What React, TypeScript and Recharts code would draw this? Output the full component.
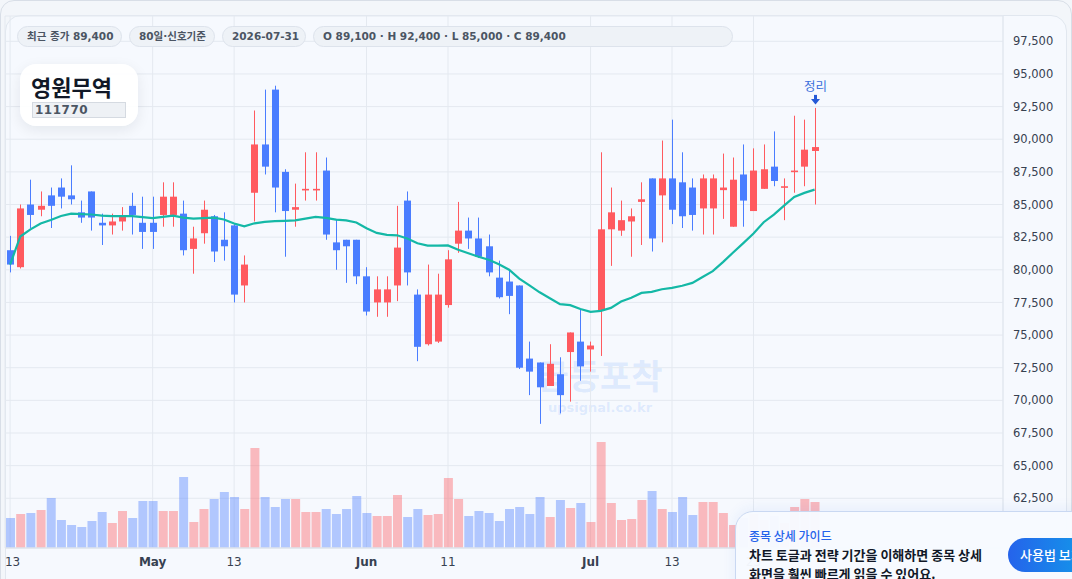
import { Bar, CartesianGrid, Cell, ComposedChart, Line, XAxis, YAxis } from 'recharts'

const dates = [
	'04-13', '04-14', '04-15', '04-16', '04-17', '04-20', '04-21', '04-22', '04-23', '04-24', '04-27', '04-28', '04-29', '04-30',
	'05-01', '05-04', '05-05', '05-06', '05-07', '05-08', '05-11', '05-12', '05-13', '05-14', '05-15', '05-18', '05-19', '05-20',
	'05-21', '05-22', '05-25', '05-26', '05-27', '05-28', '05-29',
	'06-01', '06-02', '06-03', '06-04', '06-05', '06-08', '06-09', '06-10', '06-11', '06-12', '06-15', '06-16', '06-17', '06-18',
	'06-19', '06-22', '06-23', '06-24', '06-25', '06-26', '06-29', '06-30',
	'07-01', '07-02', '07-03', '07-06', '07-07', '07-08', '07-09', '07-10', '07-13', '07-14', '07-15', '07-16', '07-17', '07-20',
	'07-21', '07-22', '07-23', '07-24', '07-27', '07-28', '07-29', '07-30', '07-31',
]

const opens = [
	81500, 80200, 85000, 84600, 85700, 86300, 85700, 84400, 86000, 83600,
	83400, 83700, 84900, 83600, 83600, 84200, 84200, 84300, 81600, 82800,
	84100, 82300, 83400, 78800, 85900, 89600, 93800, 87500, 84600, 86100,
	86100, 87600, 82100, 82300, 82300, 79500, 77500, 77500, 78800, 85300,
	78100, 74300, 74500, 77300, 82000, 83000, 82400, 81800, 79400, 79100,
	78800, 73200, 72900, 71100, 72000, 73700, 74500, 73900, 76900, 83100,
	83000, 83700, 85200, 87000, 85700, 87000, 86700, 86300, 84700, 84700,
	86100, 83300, 87300, 84500, 86200, 87900, 86300, 87500, 87900, 89100,
]
const highs = [
	82600, 85000, 86900, 86000, 86300, 87000, 88000, 85300, 86000, 84300,
	84300, 84800, 85900, 85600, 85600, 86700, 86700, 85300, 83300, 85300,
	84200, 84400, 83500, 81100, 92200, 93800, 94100, 87700, 86600, 89000,
	89000, 88600, 83900, 82300, 82300, 80200, 79500, 79500, 84900, 86000,
	78500, 80400, 79700, 81500, 85200, 84000, 84000, 82700, 80700, 80000,
	78800, 74500, 72900, 74300, 73300, 75200, 77000, 74500, 89000, 86300,
	85300, 84700, 86700, 87000, 89900, 91500, 89000, 87000, 87300, 87300,
	88900, 88600, 89600, 89300, 89600, 90600, 87000, 91800, 91500, 92400,
]
const lows = [
	79800, 80100, 83200, 84100, 83200, 84700, 85000, 83600, 83000, 81900,
	82700, 83000, 82700, 81600, 81600, 83300, 83300, 81100, 79700, 82000,
	80600, 80700, 77500, 77500, 83700, 87300, 84400, 81000, 83300, 85300,
	85300, 82300, 80000, 79000, 78900, 76500, 76400, 76400, 77600, 78800,
	73000, 74200, 74400, 77100, 81300, 81600, 80900, 79500, 77800, 76600,
	72400, 70400, 68200, 71100, 69000, 69900, 71500, 72200, 73400, 80300,
	82600, 81000, 81900, 81400, 82100, 83500, 83200, 83000, 82700, 82700,
	83900, 83300, 83300, 84500, 86200, 86400, 83800, 85900, 86400, 85000,
]
const closes = [
	80400, 84700, 84200, 84900, 84900, 85600, 85400, 84000, 84000, 83400,
	83700, 84100, 84200, 82900, 82900, 85600, 85600, 81500, 82400, 84600,
	81400, 81800, 78100, 80400, 89600, 87900, 86300, 84500, 84800, 86200,
	86200, 82700, 81500, 81800, 79500, 76800, 78500, 78500, 81700, 79800,
	74100, 78100, 78100, 80800, 83000, 82400, 81000, 79800, 77900, 78000,
	72500, 72200, 71000, 72800, 70400, 75200, 72600, 74200, 83100, 84400,
	83800, 84100, 85400, 82400, 87000, 84600, 84100, 84200, 87000, 87000,
	86300, 86900, 85300, 87600, 87700, 86800, 86400, 87600, 89200, 89400,
]
// 거래량 (천 주)
const volumes = [
	30, 34, 35, 38, 50, 28, 23, 21, 27, 36,
	25, 37, 30, 47, 47, 37, 37, 71, 26, 39,
	49, 56, 51, 39, 100, 51, 41, 49, 49, 36,
	36, 39, 34, 39, 52, 35, 32, 32, 53, 31,
	39, 33, 34, 70, 49, 32, 37, 35, 27, 39,
	41, 34, 51, 31, 48, 40, 45, 26, 106, 45,
	28, 29, 48, 57, 39, 36, 51, 33, 46, 46,
	35, 23, 30, 34, 28, 32, 25, 41, 49, 46,
]

const tickIdx = [0, 14, 22, 35, 43, 57, 65, 73]
const tickLabels = ['13', 'May', '13', 'Jun', '11', 'Jul', '13', '23']
const monthLabels = ['May', 'Jun', 'Jul']
const priceTicks = [62500, 65000, 67500, 70000, 72500, 75000, 77500, 80000, 82500, 85000, 87500, 90000, 92500, 95000, 97500]

const markerIndex = 79
const markerText = '정리'
const maPeriod = 20
const totalSlots = 98

const UP = '#ff5a5f'
const DOWN = '#4a7dff'
const UP_VOL = 'rgba(255, 90, 95, 0.4)'
const DOWN_VOL = 'rgba(74, 125, 255, 0.4)'
const FONT = '"DejaVu Sans", "Noto Sans CJK KR", sans-serif'
const KR_FONT = '"Noto Sans CJK KR", "DejaVu Sans", sans-serif'

const rows = Array.from({ length: totalSlots }, (_, i) => {
	if (i >= closes.length) return { idx: i }
	const win = closes.slice(Math.max(0, i - maPeriod + 1), i + 1)
	return {
		idx: i,
		date: dates[i],
		open: opens[i],
		high: highs[i],
		low: lows[i],
		close: closes[i],
		vol: volumes[i],
		ma: win.reduce((a, b) => a + b, 0) / win.length,
	}
})

function Candle(props: any) {
	const { x, y, width, height, payload } = props
	if (!payload || payload.open == null) return <g />
	const { open, close, high, low } = payload
	const top = Math.min(y, y + height)
	const h = Math.abs(height)
	const py = (v: number) => top + ((high - v) / (high - low)) * h
	const color = close >= open ? UP : DOWN
	const cx = Math.round(x + width / 2) + 0.5
	const bodyTop = py(Math.max(open, close))
	const bodyBottom = py(Math.min(open, close))
	return (
		<g>
			<line x1={cx} x2={cx} y1={top} y2={top + h} stroke={color} strokeWidth={1} />
			<rect x={cx - 3.5} y={bodyTop} width={7} height={Math.max(1.6, bodyBottom - bodyTop)} fill={color} />
			{payload.idx === markerIndex && (
				<g>
					<text x={cx} y={top - 17} textAnchor="middle" fontSize={12.5} fill="#3b6fdc">{markerText}</text>
					<rect x={cx - 1.5} y={top - 13} width={3} height={5} fill="#2459d6" />
					<path d={`M${cx - 4.5},${top - 9} L${cx + 4.5},${top - 9} L${cx},${top - 3.5} Z`} fill="#2459d6" />
				</g>
			)}
		</g>
	)
}

function XTick(props: any) {
	const { x, y, payload } = props
	const label = tickLabels[tickIdx.indexOf(payload.value)] ?? ''
	const bold = monthLabels.includes(label)
	return (
		<text x={payload.value === 0 ? x + 2.5 : x} y={y} dy={10} textAnchor="middle" fontSize={12} fill="#374151" fontWeight={bold ? 700 : 400}>
			{label}
		</text>
	)
}

const pill = {
	height: 21,
	borderRadius: 11,
	background: '#eef2f7',
	border: '1px solid #dde3ec',
	fontSize: 10.5,
	fontWeight: 700,
	color: '#4b5563',
	lineHeight: '19px',
	padding: '0 0 0 9px',
	boxSizing: 'border-box' as const,
	whiteSpace: 'nowrap' as const,
	overflow: 'hidden',
}

export default function App() {
	return (
		<div style={{ position: 'relative', width: 1072, height: 579, overflow: 'hidden', fontFamily: FONT, background: '#f3f6fa' }}>
			<style>{'body{margin:0}'}</style>
			<div style={{ position: 'absolute', left: 0, top: 0, width: 1070, height: 640, border: '1px solid #d8dee7', borderRadius: 14 }} />
			<div style={{ position: 'absolute', left: 5, top: 15, width: 1060, height: 640, border: '1px solid #e1e7ef', borderRadius: 16, background: '#f6f9fe' }} />

			<div style={{ position: 'absolute', left: 500, top: 357, width: 200, textAlign: 'center', color: 'rgba(59, 130, 246, 0.14)', fontWeight: 700 }}>
				<div style={{ fontSize: 34, lineHeight: '40px' }}>급등포착</div>
				<div style={{ fontSize: 13, lineHeight: '16px', marginTop: 3 }}>upsignal.co.kr</div>
			</div>

			<div style={{ position: 'absolute', left: 0, top: 0 }}>
				<ComposedChart width={1072} height={579} data={rows} margin={{ top: 16, right: 0, bottom: 0, left: 5 }}>
					<CartesianGrid xAxisId="a" yAxisId="price" stroke="#e4e9f0" />
					<XAxis
						xAxisId="a"
						dataKey="idx"
						ticks={tickIdx}
						interval={0}
						height={31}
						tick={<XTick />}
						tickLine={false}
						axisLine={{ stroke: '#dfe5ed', strokeWidth: 1.5 }}
					/>
					<XAxis xAxisId="b" dataKey="idx" hide />
					<YAxis
						yAxisId="price"
						orientation="right"
						width={69}
						domain={[58692, 99438]}
						allowDataOverflow
						ticks={priceTicks}
						interval={0}
						tickLine={false}
						tickMargin={4}
						axisLine={{ stroke: '#e1e7ef' }}
						tick={{ fontSize: 11.5, fill: '#374151' }}
						tickFormatter={(v: number) => v.toLocaleString('en-US')}
					/>
					<YAxis yAxisId="vol" hide domain={[0, 532]} allowDataOverflow />
					<Bar xAxisId="b" yAxisId="vol" dataKey="vol" barSize={9} isAnimationActive={false}>
						{rows.map((r: any, i) => (
							<Cell key={`vol-${i}`} fill={r.close >= r.open ? UP_VOL : DOWN_VOL} />
						))}
					</Bar>
					<Bar
						xAxisId="a"
						yAxisId="price"
						dataKey={(d: any) => (d.high == null ? null : [d.low, d.high])}
						shape={(p: any) => <Candle {...p} />}
						isAnimationActive={false}
					/>
					<Line
						xAxisId="a"
						yAxisId="price"
						dataKey="ma"
						stroke="#14b8a6"
						strokeWidth={2.2}
						dot={false}
						activeDot={false}
						isAnimationActive={false}
					/>
				</ComposedChart>
			</div>

			<div style={{ position: 'absolute', left: 17, top: 26, display: 'flex', gap: 7 }}>
				<div style={{ ...pill, width: 105 }}>최근 종가 89,400</div>
				<div style={{ ...pill, width: 86 }}>80일·신호기준</div>
				<div style={{ ...pill, width: 84 }}>2026-07-31</div>
				<div style={{ ...pill, width: 420 }}>O 89,100 · H 92,400 · L 85,000 · C 89,400</div>
			</div>

			<div
				style={{
					position: 'absolute',
					left: 20,
					top: 64,
					width: 118,
					height: 62,
					background: 'rgba(255, 255, 255, 0.92)',
					borderRadius: 16,
					boxShadow: '0 4px 14px rgba(15, 23, 42, 0.08)',
				}}
			>
				<div style={{ position: 'absolute', left: 11, top: 8, fontSize: 22, fontWeight: 700, color: '#111827', lineHeight: '28px', fontFamily: KR_FONT }}>영원무역</div>
				<div
					style={{
						position: 'absolute',
						left: 12,
						top: 38,
						width: 94,
						height: 16,
						boxSizing: 'border-box',
						border: '1px solid #d5dae1',
						background: '#eef1f5',
						fontSize: 12,
						fontWeight: 700,
						color: '#4b5563',
						lineHeight: '14px',
						paddingLeft: 2,
						letterSpacing: 0.5,
					}}
				>
					111770
				</div>
			</div>

			<div
				style={{
					position: 'absolute',
					left: 735,
					top: 511,
					width: 360,
					height: 100,
					boxSizing: 'border-box',
					background: 'rgba(247, 250, 255, 0.97)',
					border: '1px solid #c9d8f2',
					borderRadius: 18,
					boxShadow: '0 -2px 14px rgba(37, 99, 235, 0.08)',
					fontFamily: KR_FONT,
				}}
			>
				<div style={{ position: 'absolute', left: 13, top: 15, fontSize: 12, lineHeight: '17px', color: '#2563eb', fontWeight: 500 }}>종목 상세 가이드</div>
				<div style={{ position: 'absolute', left: 13, top: 33, fontSize: 13, lineHeight: '19px', color: '#111827', fontWeight: 700, whiteSpace: 'nowrap' }}>
					차트 토글과 전략 기간을 이해하면 종목 상세
				</div>
				<div style={{ position: 'absolute', left: 13, top: 52, fontSize: 13, lineHeight: '19px', color: '#111827', fontWeight: 700, whiteSpace: 'nowrap' }}>
					화면을 훨씬 빠르게 읽을 수 있어요.
				</div>
				<div
					style={{
						position: 'absolute',
						left: 272,
						top: 26,
						height: 34,
						width: 100,
						borderRadius: 17,
						background: 'linear-gradient(90deg, #2563eb, #0ea5e9)',
						color: '#ffffff',
						fontSize: 13,
						fontWeight: 500,
						lineHeight: '34px',
						paddingLeft: 12,
						boxSizing: 'border-box',
						whiteSpace: 'nowrap',
					}}
				>
					사용법 보기
				</div>
			</div>
		</div>
	)
}
